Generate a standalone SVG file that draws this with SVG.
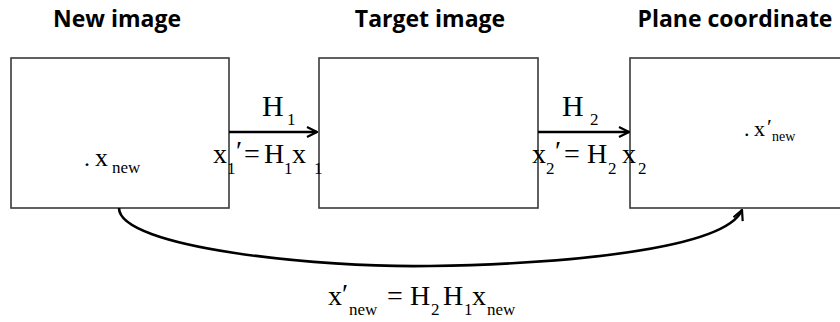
<svg xmlns="http://www.w3.org/2000/svg" width="840" height="322" viewBox="0 0 840 322">
<defs>
<style>
.box{fill:#fff;stroke:#3a3a3a;stroke-width:1.6}
.title{font-family:"Open Sans","Liberation Sans",sans-serif;font-weight:bold;font-size:23px;fill:#000}
.m{font-family:"Liberation Serif",serif;font-size:28px;fill:#000}
.s{font-size:17px}
.conn{fill:none;stroke:#000;stroke-width:2.6}
</style>
<marker id="ah" viewBox="0 0 12 12" refX="11" refY="6" markerWidth="12" markerHeight="12" markerUnits="userSpaceOnUse" orient="auto">
<path d="M1,1 L11,6 L1,11" fill="none" stroke="#000" stroke-width="2.2"/>
</marker>
</defs>
<rect width="840" height="322" fill="#fff"/>
<g id="node-new">
<rect class="box" x="11" y="58" width="218" height="150"/>
<text class="title" x="117" y="27" text-anchor="middle">New image</text>
<text class="m"><tspan x="84" y="166" style="font-size:24px">.</tspan><tspan x="95" y="166" style="font-size:26px">x</tspan><tspan class="s" x="112" y="173">new</tspan></text>
</g>
<g id="node-target">
<rect class="box" x="319" y="58" width="219" height="150"/>
<text class="title" x="430" y="27" text-anchor="middle">Target image</text>
</g>
<g id="node-plane">
<rect class="box" x="630" y="58" width="220" height="150"/>
<text class="title" x="735" y="27" text-anchor="middle">Plane coordinate</text>
<text class="m" style="font-size:22px"><tspan x="744" y="136">.</tspan><tspan x="754" y="136">x</tspan><tspan x="767" y="134">′</tspan><tspan x="772" y="141" style="font-size:14px">new</tspan></text>
</g>
<g id="connectors">
<line class="conn" x1="229" y1="132" x2="317" y2="132" marker-end="url(#ah)"/>
<line class="conn" x1="538" y1="132" x2="629" y2="132" marker-end="url(#ah)"/>
<path class="conn" d="M119,208 C119,248 320,268 430,266 C560,264 725,250 742,210" marker-end="url(#ah)"/>
</g>
<g id="label-h1">
<text class="m"><tspan x="262" y="116" style="font-size:30px">H</tspan><tspan class="s" x="287" y="125">1</tspan></text>
</g>
<g id="label-f1">
<text class="m"><tspan x="213" y="163">x</tspan><tspan class="s" x="227" y="174">1</tspan><tspan x="236" y="160">′</tspan><tspan x="244" y="163">=</tspan><tspan x="264" y="163">H</tspan><tspan class="s" x="284" y="174">1</tspan><tspan x="292" y="163">x</tspan><tspan class="s" x="314" y="174">1</tspan></text>
</g>
<g id="label-h2">
<text class="m"><tspan x="562" y="116" style="font-size:30px">H</tspan><tspan class="s" x="590" y="125">2</tspan></text>
</g>
<g id="label-f2">
<text class="m"><tspan x="532" y="163">x</tspan><tspan class="s" x="546" y="174">2</tspan><tspan x="555" y="160">′</tspan><tspan x="564" y="163">=</tspan><tspan x="587" y="163">H</tspan><tspan class="s" x="608" y="174">2</tspan><tspan x="622" y="163">x</tspan><tspan class="s" x="638" y="174">2</tspan></text>
</g>
<g id="label-bottom">
<text class="m"><tspan x="328" y="305">x</tspan><tspan x="342" y="303">′</tspan><tspan class="s" x="349" y="315">new</tspan><tspan x="387" y="305">=</tspan><tspan x="410" y="305">H</tspan><tspan class="s" x="431" y="315">2</tspan><tspan x="443" y="305">H</tspan><tspan class="s" x="464" y="315">1</tspan><tspan x="472" y="305">x</tspan><tspan class="s" x="487" y="315">new</tspan></text>
</g>
</svg>
